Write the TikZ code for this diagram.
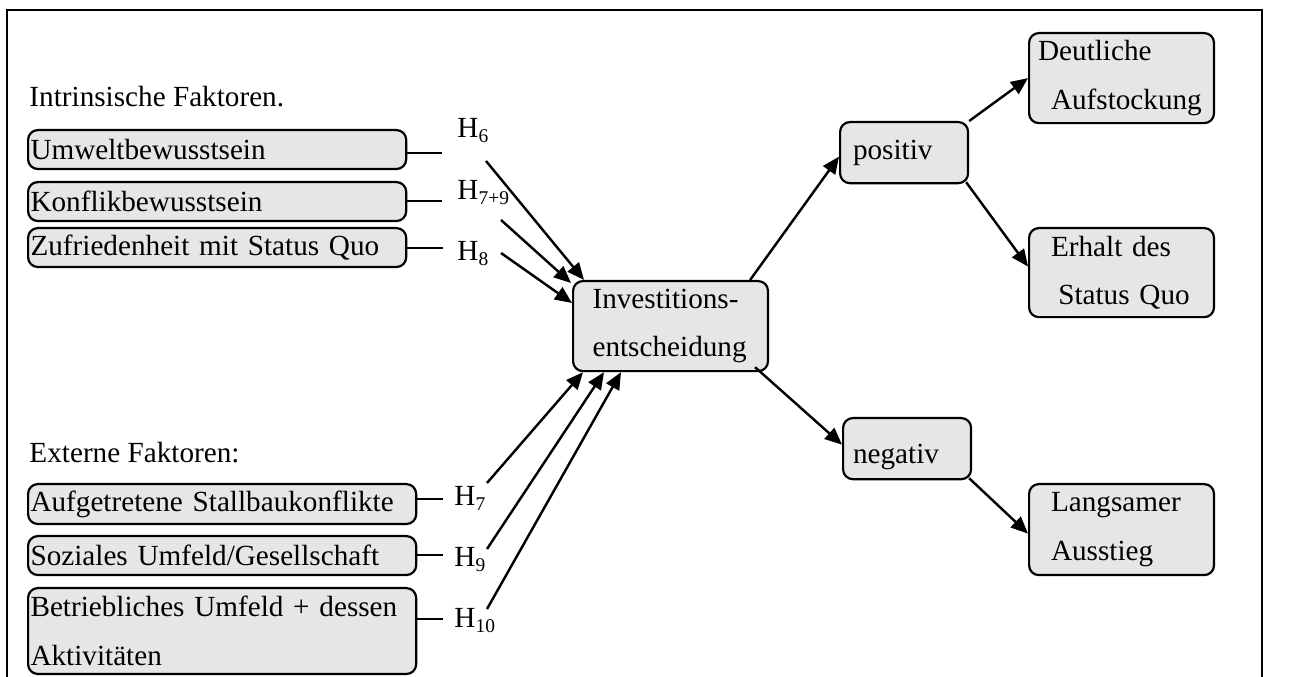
\documentclass[tikz,border=0pt]{standalone}
\usepackage{fontspec}
\setmainfont{Liberation Serif}
\usetikzlibrary{arrows.meta}
\tikzset{>={Triangle[length=7pt,width=6pt]}}
\definecolor{boxgray}{RGB}{230,230,230}
\tikzset{
  box/.style={draw, fill=boxgray, line width=0.9pt, rounded corners=4pt,
    anchor=north west, align=left, inner xsep=1pt, inner ysep=0pt},
  hlabel/.style={anchor=base west, inner sep=0pt},
}

\begin{document}
\begin{tikzpicture}[x=0.411pt, y=-0.411pt, font=\fontsize{12}{20}\selectfont]
  \useasboundingbox (0,0) rectangle (1293,677);

  % 外框
  \draw[line width=0.6pt] (7,677) -- (7,10) -- (1262,10) -- (1262,677);

  % 坐标点定义
  \coordinate (e6) at (442,153);
  \coordinate (e79) at (442,201);
  \coordinate (e8) at (443,248);
  \coordinate (e7) at (443,499);
  \coordinate (e9) at (443,555);
  \coordinate (e10) at (443,619);
  \coordinate (s6) at (486,161);
  \coordinate (s79) at (501,220);
  \coordinate (s8) at (501,253);
  \coordinate (s7) at (487,483);
  \coordinate (s9) at (487,549);
  \coordinate (s10) at (487,609);

  % 标题
  \node [anchor=base west, inner sep=0pt] (intr) at (29,107) {Intrinsische Faktoren.};
  \node [anchor=base west, inner sep=0pt] (extern) at (29,463) {Externe Faktoren:};

  % 左侧方框
  \node [box, text width=153.4pt, minimum height=16pt] (umwelt) at (27,129) {Umweltbewusstsein};
  \node [box, text width=153.4pt, minimum height=16pt] (konflikt) at (27,181) {Konflikbewusstsein};
  \node [box, text width=153.4pt, minimum height=16pt] (zufrieden) at (27,227) {Zufriedenheit mit Status Quo};
  \node [box, text width=157.5pt, minimum height=16.4pt] (stallbau) at (27,483) {Aufgetretene Stallbaukonflikte};
  \node [box, text width=157.5pt, minimum height=16pt] (sozial) at (27,535) {Soziales Umfeld/Gesellschaft};
  \node [box, text width=157.5pt, minimum height=35.3pt] (betrieb) at (27,587) {Betriebliches Umfeld + dessen\\Aktivitäten};

  % 中间与右侧方框
  \node [box, inner xsep=8pt, text width=64.1pt, minimum height=37pt] (invest) at (572,280) {Investitions-\\entscheidung};
  \node [box, inner xsep=5.3pt, text width=42pt, minimum height=25.1pt] (positiv) at (839,121) {positiv};
  \node [box, inner xsep=4.1pt, text width=44.4pt, minimum height=25.1pt, text height=12pt, text depth=0pt] (negativ) at (842,417) {negativ};
  \node [box, inner xsep=3.7pt, text width=68.6pt, minimum height=37pt] (deutlich) at (1028,32) {Deutliche\\\hspace*{5.3pt}Aufstockung};
  \node [box, inner xsep=9pt, text width=58pt, minimum height=36.6pt] (erhalt) at (1028,227) {Erhalt des\\\hspace*{3pt}Status Quo};
  \node [box, inner xsep=9pt, text width=58pt, minimum height=37.4pt] (langsam) at (1028,483) {Langsamer\\Ausstieg};

  % 假设标签
  \node [hlabel] (h6) at (457,138) {H\textsubscript{6}};
  \node [hlabel] (h79) at (457,200) {H\textsubscript{7+9}};
  \node [hlabel] (h8) at (457,261) {H\textsubscript{8}};
  \node [hlabel] (h7) at (454,506) {H\textsubscript{7}};
  \node [hlabel] (h9) at (454,567) {H\textsubscript{9}};
  \node [hlabel] (h10) at (454,628) {H\textsubscript{10}};

  % 短线
  \draw[line width=0.7pt] (umwelt.east |- e6) -- (e6);
  \draw[line width=0.7pt] (konflikt.east |- e79) -- (e79);
  \draw[line width=0.7pt] (zufrieden.east |- e8) -- (e8);
  \draw[line width=0.7pt] (stallbau.east |- e7) -- (e7);
  \draw[line width=0.7pt] (sozial.east |- e9) -- (e9);
  \draw[line width=0.7pt] (betrieb.east |- e10) -- (e10);

  % 箭头
  \draw[->, line width=1pt] (s6) -- ([shift={(12,0)}]invest.north west);
  \draw[->, line width=1pt] (s79) -- ([shift={(-1,3)}]invest.north west);
  \draw[->, line width=1pt] (s8) -- ([shift={(0,23)}]invest.north west);
  \draw[->, line width=1pt] (s7) -- ([shift={(11,0)}]invest.south west);
  \draw[->, line width=1pt] (s9) -- ([shift={(32,0)}]invest.south west);
  \draw[->, line width=1pt] (s10) -- ([shift={(49,0)}]invest.south west);
  \draw[->, line width=1pt] ([shift={(-19,0)}]invest.north east) -- ([shift={(0,4)}]positiv.west);
  \draw[->, line width=1pt] (positiv.north east) -- (deutlich.west);
  \draw[->, line width=1pt] ([shift={(-3,-2)}]positiv.south east) -- ([shift={(0,-6)}]erhalt.west);
  \draw[->, line width=1pt] ([shift={(-14,-5)}]invest.south east) -- ([shift={(0,-4)}]negativ.west);
  \draw[->, line width=1pt] ([shift={(-3,-2)}]negativ.south east) -- ([shift={(0,4)}]langsam.west);
\end{tikzpicture}
\end{document}
